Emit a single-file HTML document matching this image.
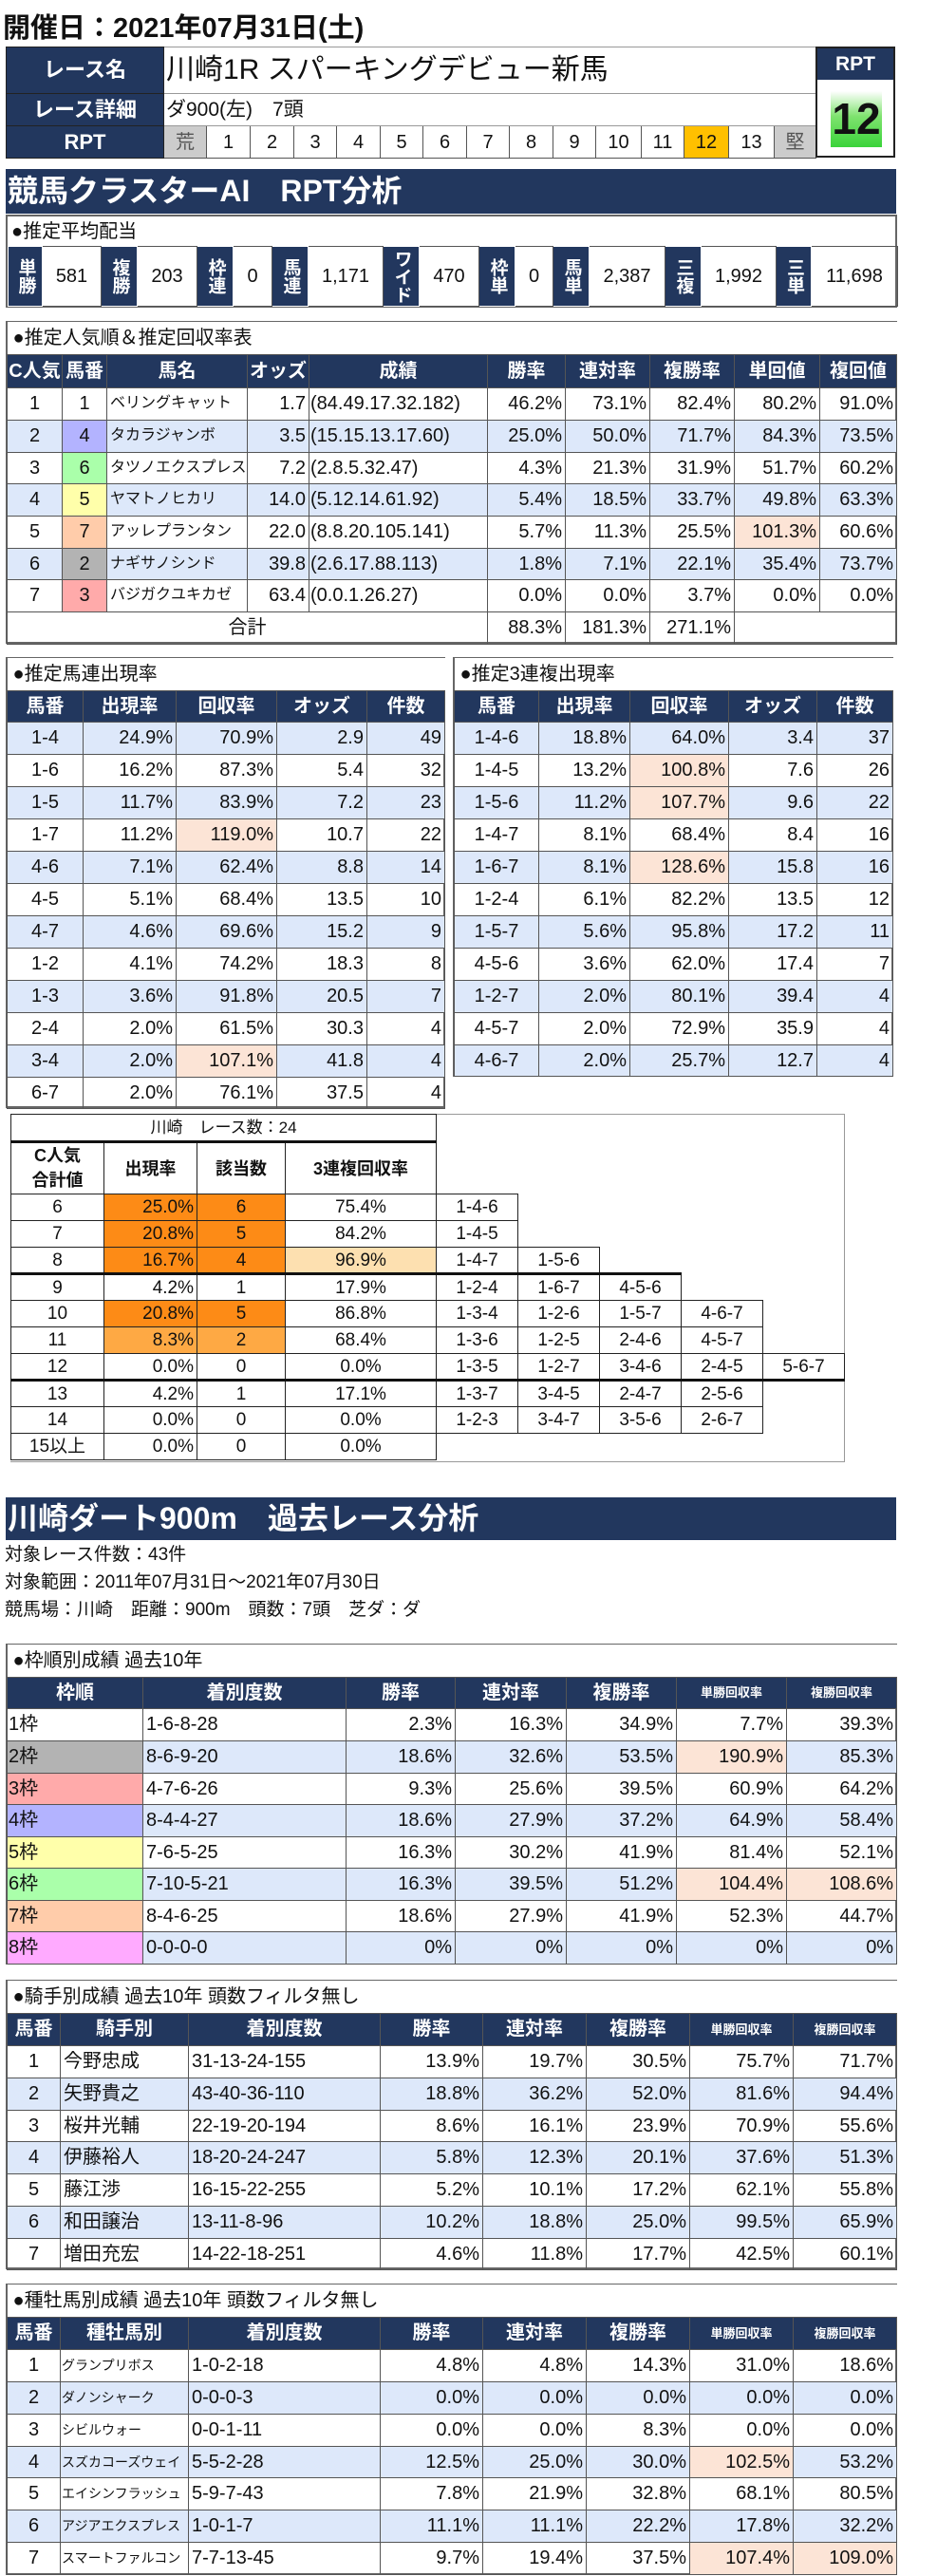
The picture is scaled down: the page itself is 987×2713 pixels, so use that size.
<!DOCTYPE html>
<html><head><meta charset="utf-8">
<style>
*{margin:0;padding:0;box-sizing:border-box}
body{width:987px;height:2713px;background:#fff;position:relative;font-family:"Liberation Sans","Noto Sans CJK JP",sans-serif;color:#111;overflow:hidden}
.a{position:absolute}
table{border-collapse:collapse;table-layout:fixed;position:absolute}
td{border:1px solid #555;white-space:nowrap;overflow:hidden;font-size:20px;padding:0 3px;line-height:1}
.h td{background:#22375e;color:#fff;font-weight:bold;text-align:center;border-color:#555}
.c{text-align:center}.r{text-align:right}.l{text-align:left}
.b td{background:#dde8fa}
.pk{background:#fce4d6 !important}
.ttl td{font-size:20px;text-align:left;padding-left:6px;background:#fff}
.nm{font-size:16px}
.sm{font-size:13px !important}
.banner{position:absolute;left:6px;width:938px;background:#22375e;color:#fff;font-weight:bold;font-size:32px;padding-left:2px}
.frame{position:absolute;border:2px solid #666}
</style></head><body>

<div class="a" style="left:3px;top:6px;font-size:29px;font-weight:bold;">開催日：2021年07月31日(土)</div>

<!-- header -->
<table style="left:6px;top:49px;width:853px;">
<colgroup><col style="width:166px"><col style="width:45px"><col style="width:46px"><col style="width:46px"><col style="width:45px"><col style="width:46px"><col style="width:45px"><col style="width:46px"><col style="width:45px"><col style="width:46px"><col style="width:45px"><col style="width:48px"><col style="width:45px"><col style="width:47px"><col style="width:48px"><col style="width:44px"></colgroup>
<tr style="height:49px"><td style="background:#22375e;color:#fff;font-weight:bold;text-align:center;font-size:22px;border-color:#222">レース名</td><td colspan="15" style="font-size:30px;padding-left:2px;border-color:#999">川崎1R スパーキングデビュー新馬</td></tr>
<tr style="height:34px"><td style="background:#22375e;color:#fff;font-weight:bold;text-align:center;font-size:22px;border-color:#222">レース詳細</td><td colspan="15" style="font-size:21px;padding-left:2px;border-color:#999">ダ900(左)　7頭</td></tr>
<tr style="height:34px;font-size:20px"><td style="background:#22375e;color:#fff;font-weight:bold;text-align:center;font-size:22px;border-color:#222">RPT</td>
<td class="c" style="background:#ccc;color:#555">荒</td><td class="c">1</td><td class="c">2</td><td class="c">3</td><td class="c">4</td><td class="c">5</td><td class="c">6</td><td class="c">7</td><td class="c">8</td><td class="c">9</td><td class="c">10</td><td class="c">11</td><td class="c" style="background:#ffc000">12</td><td class="c">13</td><td class="c" style="background:#ccc;color:#555">堅</td></tr>
</table>
<div class="a" style="left:859px;top:49px;width:84px;height:117px;border:2px solid #222;background:#fff">
<div style="height:33px;background:#22375e;color:#fff;font-weight:bold;font-size:21px;text-align:center;line-height:33px">RPT</div>
<div style="position:absolute;left:14px;top:45px;width:54px;height:59px;background:linear-gradient(#fff,#7fe36f 45%,#3ad33a);font-size:46px;font-weight:bold;text-align:center;line-height:59px">12</div>
</div>

<div class="banner" style="top:178px;height:47px;line-height:47px">競馬クラスターAI　RPT分析</div>

<!-- average payout -->
<div class="frame" style="left:6px;top:226px;width:939px;height:98px"></div>
<div class="a" style="left:12px;top:229px;font-size:20px;line-height:30px">●推定平均配当</div>
<table style="left:8px;top:259px;width:937px;">
<colgroup><col style="width:36px"><col style="width:62px"><col style="width:38px"><col style="width:63px"><col style="width:38px"><col style="width:41px"><col style="width:38px"><col style="width:79px"><col style="width:38px"><col style="width:63px"><col style="width:38px"><col style="width:40px"><col style="width:38px"><col style="width:80px"><col style="width:38px"><col style="width:79px"><col style="width:37px"><col style="width:91px"></colgroup>
<tr style="height:63px">
<td class="vl">単勝</td><td class="c">581</td><td class="vl">複勝</td><td class="c">203</td><td class="vl">枠連</td><td class="c">0</td><td class="vl">馬連</td><td class="c">1,171</td><td class="vl">ワイド</td><td class="c">470</td><td class="vl">枠単</td><td class="c">0</td><td class="vl">馬単</td><td class="c">2,387</td><td class="vl">三複</td><td class="c">1,992</td><td class="vl">三単</td><td class="c">11,698</td></tr>
</table>
<style>.vl{background:#22375e;color:#fff;font-weight:bold;font-size:19px;writing-mode:vertical-rl;text-align:center;padding:0;line-height:36px;border-color:#fff}</style>

<!-- popularity table -->
<div class="frame" style="left:6px;top:338px;width:939px;height:340px"></div>
<table style="left:7px;top:339px;width:937px;">
<colgroup><col style="width:58px"><col style="width:47px"><col style="width:148px"><col style="width:65px"><col style="width:188px"><col style="width:82px"><col style="width:89px"><col style="width:89px"><col style="width:90px"><col style="width:81px"></colgroup>
<tr class="ttl" style="height:34px"><td colspan="10" style="border:none">●推定人気順＆推定回収率表</td></tr>
<tr class="h" style="height:35px"><td style="padding:0">C人気</td><td style="padding:0">馬番</td><td>馬名</td><td style="padding:0">オッズ</td><td>成績</td><td>勝率</td><td>連対率</td><td>複勝率</td><td>単回値</td><td>複回値</td></tr>
<tr style="height:34px"><td class="c">1</td><td class="c">1</td><td class="nm">ベリングキャット</td><td class="r">1.7</td><td class="l" style="padding:0 1px">(84.49.17.32.182)</td><td class="r">46.2%</td><td class="r">73.1%</td><td class="r">82.4%</td><td class="r">80.2%</td><td class="r">91.0%</td></tr>
<tr class="b" style="height:34px"><td class="c">2</td><td class="c" style="background:#b3b3ff">4</td><td class="nm">タカラジャンボ</td><td class="r">3.5</td><td style="padding:0 1px">(15.15.13.17.60)</td><td class="r">25.0%</td><td class="r">50.0%</td><td class="r">71.7%</td><td class="r">84.3%</td><td class="r">73.5%</td></tr>
<tr style="height:33px"><td class="c">3</td><td class="c" style="background:#aaffaa">6</td><td class="nm">タツノエクスプレス</td><td class="r">7.2</td><td style="padding:0 1px">(2.8.5.32.47)</td><td class="r">4.3%</td><td class="r">21.3%</td><td class="r">31.9%</td><td class="r">51.7%</td><td class="r">60.2%</td></tr>
<tr class="b" style="height:34px"><td class="c">4</td><td class="c" style="background:#ffffaa">5</td><td class="nm">ヤマトノヒカリ</td><td class="r">14.0</td><td style="padding:0 1px">(5.12.14.61.92)</td><td class="r">5.4%</td><td class="r">18.5%</td><td class="r">33.7%</td><td class="r">49.8%</td><td class="r">63.3%</td></tr>
<tr style="height:34px"><td class="c">5</td><td class="c" style="background:#ffccaa">7</td><td class="nm">アッレプランタン</td><td class="r">22.0</td><td style="padding:0 1px">(8.8.20.105.141)</td><td class="r">5.7%</td><td class="r">11.3%</td><td class="r">25.5%</td><td class="r pk">101.3%</td><td class="r">60.6%</td></tr>
<tr class="b" style="height:33px"><td class="c">6</td><td class="c" style="background:#b3b3b3">2</td><td class="nm">ナギサノシンド</td><td class="r">39.8</td><td style="padding:0 1px">(2.6.17.88.113)</td><td class="r">1.8%</td><td class="r">7.1%</td><td class="r">22.1%</td><td class="r">35.4%</td><td class="r">73.7%</td></tr>
<tr style="height:34px"><td class="c">7</td><td class="c" style="background:#ffaaaa">3</td><td class="nm">バジガクユキカゼ</td><td class="r">63.4</td><td style="padding:0 1px">(0.0.1.26.27)</td><td class="r">0.0%</td><td class="r">0.0%</td><td class="r">3.7%</td><td class="r">0.0%</td><td class="r">0.0%</td></tr>
<tr style="height:34px"><td colspan="5" class="c">合計</td><td class="r">88.3%</td><td class="r">181.3%</td><td class="r">271.1%</td><td colspan="2"></td></tr>
</table>

<!-- umaren -->
<div class="frame" style="left:6px;top:692px;width:463px;height:475px"></div>
<table style="left:7px;top:693px;width:461px;">
<colgroup><col style="width:80px"><col style="width:98px"><col style="width:106px"><col style="width:95px"><col style="width:82px"></colgroup>
<tr class="ttl" style="height:34px"><td colspan="5" style="border:none">●推定馬連出現率</td></tr>
<tr class="h" style="height:33px"><td>馬番</td><td>出現率</td><td>回収率</td><td>オッズ</td><td>件数</td></tr>
<tr class="b" style="height:34px"><td class="c">1-4</td><td class="r">24.9%</td><td class="r">70.9%</td><td class="r">2.9</td><td class="r">49</td></tr>
<tr style="height:34px"><td class="c">1-6</td><td class="r">16.2%</td><td class="r">87.3%</td><td class="r">5.4</td><td class="r">32</td></tr>
<tr class="b" style="height:34px"><td class="c">1-5</td><td class="r">11.7%</td><td class="r">83.9%</td><td class="r">7.2</td><td class="r">23</td></tr>
<tr style="height:34px"><td class="c">1-7</td><td class="r">11.2%</td><td class="r pk">119.0%</td><td class="r">10.7</td><td class="r">22</td></tr>
<tr class="b" style="height:34px"><td class="c">4-6</td><td class="r">7.1%</td><td class="r">62.4%</td><td class="r">8.8</td><td class="r">14</td></tr>
<tr style="height:34px"><td class="c">4-5</td><td class="r">5.1%</td><td class="r">68.4%</td><td class="r">13.5</td><td class="r">10</td></tr>
<tr class="b" style="height:34px"><td class="c">4-7</td><td class="r">4.6%</td><td class="r">69.6%</td><td class="r">15.2</td><td class="r">9</td></tr>
<tr style="height:34px"><td class="c">1-2</td><td class="r">4.1%</td><td class="r">74.2%</td><td class="r">18.3</td><td class="r">8</td></tr>
<tr class="b" style="height:34px"><td class="c">1-3</td><td class="r">3.6%</td><td class="r">91.8%</td><td class="r">20.5</td><td class="r">7</td></tr>
<tr style="height:34px"><td class="c">2-4</td><td class="r">2.0%</td><td class="r">61.5%</td><td class="r">30.3</td><td class="r">4</td></tr>
<tr class="b" style="height:34px"><td class="c">3-4</td><td class="r">2.0%</td><td class="r pk">107.1%</td><td class="r">41.8</td><td class="r">4</td></tr>
<tr style="height:33px"><td class="c">6-7</td><td class="r">2.0%</td><td class="r">76.1%</td><td class="r">37.5</td><td class="r">4</td></tr>
</table>

<!-- sanrenpuku -->
<div class="frame" style="left:477px;top:692px;width:464px;height:442px"></div>
<table style="left:478px;top:693px;width:462px;">
<colgroup><col style="width:89px"><col style="width:96px"><col style="width:104px"><col style="width:93px"><col style="width:80px"></colgroup>
<tr class="ttl" style="height:34px"><td colspan="5" style="border:none">●推定3連複出現率</td></tr>
<tr class="h" style="height:33px"><td>馬番</td><td>出現率</td><td>回収率</td><td>オッズ</td><td>件数</td></tr>
<tr class="b" style="height:34px"><td class="c">1-4-6</td><td class="r">18.8%</td><td class="r">64.0%</td><td class="r">3.4</td><td class="r">37</td></tr>
<tr style="height:34px"><td class="c">1-4-5</td><td class="r">13.2%</td><td class="r pk">100.8%</td><td class="r">7.6</td><td class="r">26</td></tr>
<tr class="b" style="height:34px"><td class="c">1-5-6</td><td class="r">11.2%</td><td class="r pk">107.7%</td><td class="r">9.6</td><td class="r">22</td></tr>
<tr style="height:34px"><td class="c">1-4-7</td><td class="r">8.1%</td><td class="r">68.4%</td><td class="r">8.4</td><td class="r">16</td></tr>
<tr class="b" style="height:34px"><td class="c">1-6-7</td><td class="r">8.1%</td><td class="r pk">128.6%</td><td class="r">15.8</td><td class="r">16</td></tr>
<tr style="height:34px"><td class="c">1-2-4</td><td class="r">6.1%</td><td class="r">82.2%</td><td class="r">13.5</td><td class="r">12</td></tr>
<tr class="b" style="height:34px"><td class="c">1-5-7</td><td class="r">5.6%</td><td class="r">95.8%</td><td class="r">17.2</td><td class="r">11</td></tr>
<tr style="height:34px"><td class="c">4-5-6</td><td class="r">3.6%</td><td class="r">62.0%</td><td class="r">17.4</td><td class="r">7</td></tr>
<tr class="b" style="height:34px"><td class="c">1-2-7</td><td class="r">2.0%</td><td class="r">80.1%</td><td class="r">39.4</td><td class="r">4</td></tr>
<tr style="height:34px"><td class="c">4-5-7</td><td class="r">2.0%</td><td class="r">72.9%</td><td class="r">35.9</td><td class="r">4</td></tr>
<tr class="b" style="height:33px"><td class="c">4-6-7</td><td class="r">2.0%</td><td class="r">25.7%</td><td class="r">12.7</td><td class="r">4</td></tr>
</table>

<!-- cluster -->
<style>
.cl td{border:1px solid #222;font-size:19px;height:28px}
.cl td.e{border:none}
.o1{background:#fd8b16}.o2{background:#fea944}.o3{background:#fde0b0}
.tk td{border-bottom:3px solid #111}
</style>
<div class="a" style="left:11px;top:1173px;width:879px;height:367px;border:1px solid #999;border-left:none"></div>
<table class="cl" style="left:11px;top:1173px;width:878px;">
<colgroup><col style="width:98px"><col style="width:98px"><col style="width:93px"><col style="width:159px"><col style="width:86px"><col style="width:86px"><col style="width:86px"><col style="width:86px"><col style="width:86px"></colgroup>
<tr style="height:29px"><td colspan="4" class="c" style="font-size:17px;border-bottom:3px solid #111">川崎　レース数：24</td><td class="e" colspan="5"></td></tr>
<tr style="height:55px;font-weight:bold"><td class="c" style="font-weight:bold;font-size:18px;line-height:1.4">C人気<br>合計値</td><td class="c" style="font-weight:bold;font-size:18px">出現率</td><td class="c" style="font-weight:bold;font-size:18px">該当数</td><td class="c" style="font-weight:bold;font-size:18px">3連複回収率</td><td class="e" colspan="5"></td></tr>
<tr><td class="c">6</td><td class="r o1">25.0%</td><td class="c o1">6</td><td class="c">75.4%</td><td class="c">1-4-6</td><td class="e"></td><td class="e"></td><td class="e"></td><td class="e"></td></tr>
<tr><td class="c">7</td><td class="r o1">20.8%</td><td class="c o1">5</td><td class="c">84.2%</td><td class="c">1-4-5</td><td class="e"></td><td class="e"></td><td class="e"></td><td class="e"></td></tr>
<tr class="tk"><td class="c">8</td><td class="r o1">16.7%</td><td class="c o1">4</td><td class="c o3">96.9%</td><td class="c">1-4-7</td><td class="c">1-5-6</td><td class="e" style="border-bottom:3px solid #111"></td><td class="e"></td><td class="e"></td></tr>
<tr><td class="c">9</td><td class="r">4.2%</td><td class="c">1</td><td class="c">17.9%</td><td class="c">1-2-4</td><td class="c">1-6-7</td><td class="c">4-5-6</td><td class="e"></td><td class="e"></td></tr>
<tr><td class="c">10</td><td class="r o1">20.8%</td><td class="c o1">5</td><td class="c">86.8%</td><td class="c">1-3-4</td><td class="c">1-2-6</td><td class="c">1-5-7</td><td class="c">4-6-7</td><td class="e"></td></tr>
<tr><td class="c">11</td><td class="r o2">8.3%</td><td class="c o2">2</td><td class="c">68.4%</td><td class="c">1-3-6</td><td class="c">1-2-5</td><td class="c">2-4-6</td><td class="c">4-5-7</td><td class="e"></td></tr>
<tr class="tk"><td class="c">12</td><td class="r">0.0%</td><td class="c">0</td><td class="c">0.0%</td><td class="c">1-3-5</td><td class="c">1-2-7</td><td class="c">3-4-6</td><td class="c">2-4-5</td><td class="c">5-6-7</td></tr>
<tr><td class="c">13</td><td class="r">4.2%</td><td class="c">1</td><td class="c">17.1%</td><td class="c">1-3-7</td><td class="c">3-4-5</td><td class="c">2-4-7</td><td class="c">2-5-6</td><td class="e"></td></tr>
<tr><td class="c">14</td><td class="r">0.0%</td><td class="c">0</td><td class="c">0.0%</td><td class="c">1-2-3</td><td class="c">3-4-7</td><td class="c">3-5-6</td><td class="c">2-6-7</td><td class="e"></td></tr>
<tr><td class="c">15以上</td><td class="r">0.0%</td><td class="c">0</td><td class="c">0.0%</td><td class="e"></td><td class="e"></td><td class="e"></td><td class="e"></td><td class="e"></td></tr>
</table>

<!-- section 2 -->
<div class="banner" style="top:1577px;height:45px;line-height:45px">川崎ダート900m　過去レース分析</div>
<div class="a" style="left:5px;top:1623px;font-size:19px;line-height:29px">対象レース件数：43件<br>対象範囲：2011年07月31日～2021年07月30日<br>競馬場：川崎　距離：900m　頭数：7頭　芝ダ：ダ</div>

<!-- waku -->
<div class="frame" style="left:6px;top:1731px;width:939px;height:338px"></div>
<table style="left:7px;top:1732px;width:937px;">
<colgroup><col style="width:143px"><col style="width:214px"><col style="width:115px"><col style="width:117px"><col style="width:116px"><col style="width:116px"><col style="width:116px"></colgroup>
<tr class="ttl" style="height:34px"><td colspan="7" style="border:none">●枠順別成績 過去10年</td></tr>
<tr class="h" style="height:33px"><td>枠順</td><td>着別度数</td><td>勝率</td><td>連対率</td><td>複勝率</td><td class="sm">単勝回収率</td><td class="sm">複勝回収率</td></tr>
<tr style="height:34px"><td style="padding:0 1px">1枠</td><td>1-6-8-28</td><td class="r">2.3%</td><td class="r">16.3%</td><td class="r">34.9%</td><td class="r">7.7%</td><td class="r">39.3%</td></tr>
<tr class="b" style="height:34px"><td style="padding:0 1px;background:#b3b3b3">2枠</td><td>8-6-9-20</td><td class="r">18.6%</td><td class="r">32.6%</td><td class="r">53.5%</td><td class="r pk">190.9%</td><td class="r">85.3%</td></tr>
<tr style="height:33px"><td style="padding:0 1px;background:#ffaaaa">3枠</td><td>4-7-6-26</td><td class="r">9.3%</td><td class="r">25.6%</td><td class="r">39.5%</td><td class="r">60.9%</td><td class="r">64.2%</td></tr>
<tr class="b" style="height:34px"><td style="padding:0 1px;background:#b3b3ff">4枠</td><td>8-4-4-27</td><td class="r">18.6%</td><td class="r">27.9%</td><td class="r">37.2%</td><td class="r">64.9%</td><td class="r">58.4%</td></tr>
<tr style="height:33px"><td style="padding:0 1px;background:#ffffaa">5枠</td><td>7-6-5-25</td><td class="r">16.3%</td><td class="r">30.2%</td><td class="r">41.9%</td><td class="r">81.4%</td><td class="r">52.1%</td></tr>
<tr class="b" style="height:34px"><td style="padding:0 1px;background:#aaffaa">6枠</td><td>7-10-5-21</td><td class="r">16.3%</td><td class="r">39.5%</td><td class="r">51.2%</td><td class="r pk">104.4%</td><td class="r pk">108.6%</td></tr>
<tr style="height:33px"><td style="padding:0 1px;background:#ffccaa">7枠</td><td>8-4-6-25</td><td class="r">18.6%</td><td class="r">27.9%</td><td class="r">41.9%</td><td class="r">52.3%</td><td class="r">44.7%</td></tr>
<tr class="b" style="height:34px"><td style="padding:0 1px;background:#ffaaff">8枠</td><td>0-0-0-0</td><td class="r">0%</td><td class="r">0%</td><td class="r">0%</td><td class="r">0%</td><td class="r">0%</td></tr>
</table>

<!-- jockey -->
<div class="frame" style="left:6px;top:2085px;width:939px;height:305px"></div>
<table style="left:7px;top:2086px;width:937px;">
<colgroup><col style="width:56px"><col style="width:135px"><col style="width:202px"><col style="width:108px"><col style="width:109px"><col style="width:109px"><col style="width:109px"><col style="width:109px"></colgroup>
<tr class="ttl" style="height:34px"><td colspan="8" style="border:none">●騎手別成績 過去10年 頭数フィルタ無し</td></tr>
<tr class="h" style="height:34px"><td style="padding:0">馬番</td><td>騎手別</td><td>着別度数</td><td>勝率</td><td>連対率</td><td>複勝率</td><td class="sm">単勝回収率</td><td class="sm">複勝回収率</td></tr>
<tr style="height:34px"><td class="c">1</td><td>今野忠成</td><td>31-13-24-155</td><td class="r">13.9%</td><td class="r">19.7%</td><td class="r">30.5%</td><td class="r">75.7%</td><td class="r">71.7%</td></tr>
<tr class="b" style="height:34px"><td class="c">2</td><td>矢野貴之</td><td>43-40-36-110</td><td class="r">18.8%</td><td class="r">36.2%</td><td class="r">52.0%</td><td class="r">81.6%</td><td class="r">94.4%</td></tr>
<tr style="height:33px"><td class="c">3</td><td>桜井光輔</td><td>22-19-20-194</td><td class="r">8.6%</td><td class="r">16.1%</td><td class="r">23.9%</td><td class="r">70.9%</td><td class="r">55.6%</td></tr>
<tr class="b" style="height:34px"><td class="c">4</td><td>伊藤裕人</td><td>18-20-24-247</td><td class="r">5.8%</td><td class="r">12.3%</td><td class="r">20.1%</td><td class="r">37.6%</td><td class="r">51.3%</td></tr>
<tr style="height:34px"><td class="c">5</td><td>藤江渉</td><td>16-15-22-255</td><td class="r">5.2%</td><td class="r">10.1%</td><td class="r">17.2%</td><td class="r">62.1%</td><td class="r">55.8%</td></tr>
<tr class="b" style="height:34px"><td class="c">6</td><td>和田譲治</td><td>13-11-8-96</td><td class="r">10.2%</td><td class="r">18.8%</td><td class="r">25.0%</td><td class="r">99.5%</td><td class="r">65.9%</td></tr>
<tr style="height:33px"><td class="c">7</td><td>増田充宏</td><td>14-22-18-251</td><td class="r">4.6%</td><td class="r">11.8%</td><td class="r">17.7%</td><td class="r">42.5%</td><td class="r">60.1%</td></tr>
</table>

<!-- sire -->
<div class="frame" style="left:6px;top:2405px;width:939px;height:307px"></div>
<table style="left:7px;top:2406px;width:937px;">
<colgroup><col style="width:56px"><col style="width:135px"><col style="width:202px"><col style="width:108px"><col style="width:109px"><col style="width:109px"><col style="width:109px"><col style="width:109px"></colgroup>
<tr class="ttl" style="height:34px"><td colspan="8" style="border:none">●種牡馬別成績 過去10年 頭数フィルタ無し</td></tr>
<tr class="h" style="height:34px"><td style="padding:0">馬番</td><td>種牡馬別</td><td>着別度数</td><td>勝率</td><td>連対率</td><td>複勝率</td><td class="sm">単勝回収率</td><td class="sm">複勝回収率</td></tr>
<tr style="height:34px"><td class="c">1</td><td style="font-size:14px;padding:0 1px">グランプリボス</td><td>1-0-2-18</td><td class="r">4.8%</td><td class="r">4.8%</td><td class="r">14.3%</td><td class="r">31.0%</td><td class="r">18.6%</td></tr>
<tr class="b" style="height:34px"><td class="c">2</td><td style="font-size:14px;padding:0 1px">ダノンシャーク</td><td>0-0-0-3</td><td class="r">0.0%</td><td class="r">0.0%</td><td class="r">0.0%</td><td class="r">0.0%</td><td class="r">0.0%</td></tr>
<tr style="height:34px"><td class="c">3</td><td style="font-size:14px;padding:0 1px">シビルウォー</td><td>0-0-1-11</td><td class="r">0.0%</td><td class="r">0.0%</td><td class="r">8.3%</td><td class="r">0.0%</td><td class="r">0.0%</td></tr>
<tr class="b" style="height:33px"><td class="c">4</td><td style="font-size:14px;padding:0 1px">スズカコーズウェイ</td><td>5-5-2-28</td><td class="r">12.5%</td><td class="r">25.0%</td><td class="r">30.0%</td><td class="r pk">102.5%</td><td class="r">53.2%</td></tr>
<tr style="height:34px"><td class="c">5</td><td style="font-size:14px;padding:0 1px">エイシンフラッシュ</td><td>5-9-7-43</td><td class="r">7.8%</td><td class="r">21.9%</td><td class="r">32.8%</td><td class="r">68.1%</td><td class="r">80.5%</td></tr>
<tr class="b" style="height:34px"><td class="c">6</td><td style="font-size:14px;padding:0 1px">アジアエクスプレス</td><td>1-0-1-7</td><td class="r">11.1%</td><td class="r">11.1%</td><td class="r">22.2%</td><td class="r">17.8%</td><td class="r">32.2%</td></tr>
<tr style="height:34px"><td class="c">7</td><td style="font-size:14px;padding:0 1px">スマートファルコン</td><td>7-7-13-45</td><td class="r">9.7%</td><td class="r">19.4%</td><td class="r">37.5%</td><td class="r pk">107.4%</td><td class="r pk">109.0%</td></tr>
</table>
</body></html>
